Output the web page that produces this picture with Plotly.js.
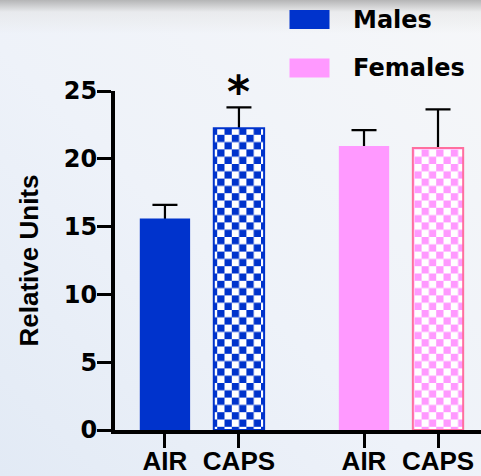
<!DOCTYPE html>
<html>
<head>
<meta charset="utf-8">
<script src="https://cdn.plot.ly/plotly-3.0.1.min.js"></script>
<style>
  html, body { margin: 0; padding: 0; width: 481px; height: 476px; overflow: hidden; }
  body {
    background:
      linear-gradient(to bottom, rgba(170,170,170,0.85) 0px, rgba(225,225,225,0.5) 12px, rgba(245,246,248,0) 34px),
      linear-gradient(to top right, #e2eaf5 0%, #eef2f9 45%, #f6f7f9 100%);
  }
  #chart { width: 481px; height: 476px; }
</style>
</head>
<body>
<div id="chart"></div>
<script>
// ---- data ----
var categories = ["AIR", "CAPS", "AIR", "CAPS"];
var positions = [0, 1, 2.69, 3.69];
var values = [15.6, 22.25, 20.94, 20.8];
var errors = [1.0, 1.54, 1.17, 2.84];
var groups = ["Males", "Females"];
var yTicks = [0, 5, 10, 15, 20, 25];
var significant = [false, true, false, false];

var maleBlue = "#0033cc";
var femalePink = "#ff99ff";
var femaleEdge = "#ff6f9f";

var fillColors = [maleBlue, maleBlue, femalePink, femalePink];
var edgeColors = [maleBlue, maleBlue, femalePink, femaleEdge];
var edgeWidths = [0, 2, 0, 2];
var patternShapes = ["", "+", "", "+"];

// invisible bars carrying the error bars (drawn first, lower half hidden by real bars)
var errTrace = {
  type: "bar",
  x: positions,
  y: values,
  width: 0.68,
  marker: { color: "rgba(0,0,0,0)", line: { width: 0 } },
  error_y: { type: "data", array: errors, symmetric: true, color: "#000", thickness: 2.2, width: 12.5 },
  hoverinfo: "skip",
  showlegend: false
};

var barTrace = {
  type: "bar",
  x: positions,
  y: values,
  width: 0.68,
  marker: {
    color: fillColors,
    line: { color: edgeColors, width: edgeWidths },
    pattern: { shape: patternShapes, fgcolor: fillColors, bgcolor: "#ffffff", size: 14.6, solidity: 0.5, fillmode: "replace" }
  },
  showlegend: false
};

// helper: pixel -> paper coords for legend placement
var L = 115, T = 91, W = 481, H = 476, B = 46;
var pw = W - L, ph = H - T - B;
function px(x) { return (x - L) / pw; }
function py(y) { return (H - B - y) / ph; }

var legendColors = [maleBlue, femalePink];
var legendRows = [10, 58.5];
var shapes = [];
var annotations = [];
groups.forEach(function (g, i) {
  shapes.push({
    type: "rect", xref: "paper", yref: "paper",
    x0: px(289.5), x1: px(329.5), y0: py(legendRows[i] + 19), y1: py(legendRows[i]),
    fillcolor: legendColors[i], line: { width: 0 }
  });
  annotations.push({
    xref: "paper", yref: "paper", x: px(351), y: py(legendRows[i] + 9.5),
    xanchor: "left", yanchor: "middle", showarrow: false, text: g,
    font: { family: "DejaVu Sans", size: 24, color: "#000", weight: "bold" }
  });
});
significant.forEach(function (s, i) {
  if (s) {
    annotations.push({
      x: positions[i], y: values[i] + errors[i], xref: "x", yref: "y",
      text: "*", showarrow: false, yanchor: "bottom", yshift: -12,
      font: { family: "DejaVu Sans", size: 44, color: "#000", weight: "bold" }
    });
  }
});

var layout = {
  width: W, height: H,
  margin: { l: L, r: 0, t: T, b: B, pad: 0 },
  paper_bgcolor: "rgba(0,0,0,0)",
  plot_bgcolor: "rgba(0,0,0,0)",
  barmode: "overlay",
  showlegend: false,
  xaxis: {
    range: [-0.675, (W - L) / 74 - 0.675],
    tickvals: positions, ticktext: categories,
    showline: true, linewidth: 4, linecolor: "#000",
    ticks: "outside", ticklen: 14, tickwidth: 3, tickcolor: "#000",
    ticklabelstandoff: -9,
    showgrid: false, zeroline: false, automargin: false,
    tickfont: { family: "Liberation Sans, Arial", size: 26, color: "#000", weight: "bold" }
  },
  yaxis: {
    range: [0, 25],
    tickvals: yTicks,
    showline: true, linewidth: 4, linecolor: "#000",
    ticks: "outside", ticklen: 14, tickwidth: 3, tickcolor: "#000",
    ticklabelstandoff: -5,
    showgrid: false, zeroline: false, automargin: false,
    tickfont: { family: "DejaVu Sans", size: 24, color: "#000", weight: "bold" },
    title: { text: "Relative Units", standoff: 19,
      font: { family: "Liberation Sans, Arial", size: 26, color: "#000", weight: "bold" } }
  },
  shapes: shapes,
  annotations: annotations
};

// turn the pattern fills into a checkerboard (same colours Plotly assigned)
function checkerize() {
  var pats = document.querySelectorAll("#chart pattern");
  pats.forEach(function (p) {
    var path = p.querySelector("path");
    if (!path) return;
    var fg = path.getAttribute("stroke") || path.style.stroke || "#000";
    var s = 14.6, h = s / 2;
    p.removeAttribute("patternTransform");
    p.setAttribute("width", s);
    p.setAttribute("height", s);
    while (p.firstChild) p.removeChild(p.firstChild);
    var ns = "http://www.w3.org/2000/svg";
    var bg = document.createElementNS(ns, "rect");
    bg.setAttribute("x", 0); bg.setAttribute("y", 0);
    bg.setAttribute("width", s); bg.setAttribute("height", s);
    bg.setAttribute("fill", "#ffffff");
    p.appendChild(bg);
    [[0, 0], [h, h]].forEach(function (c) {
      var r = document.createElementNS(ns, "rect");
      r.setAttribute("x", c[0]); r.setAttribute("y", c[1]);
      r.setAttribute("width", h); r.setAttribute("height", h);
      r.setAttribute("fill", fg);
      p.appendChild(r);
    });
  });
}

Plotly.newPlot("chart", [errTrace, barTrace], layout, { displayModeBar: false, staticPlot: true })
  .then(checkerize);
</script>
</body>
</html>
